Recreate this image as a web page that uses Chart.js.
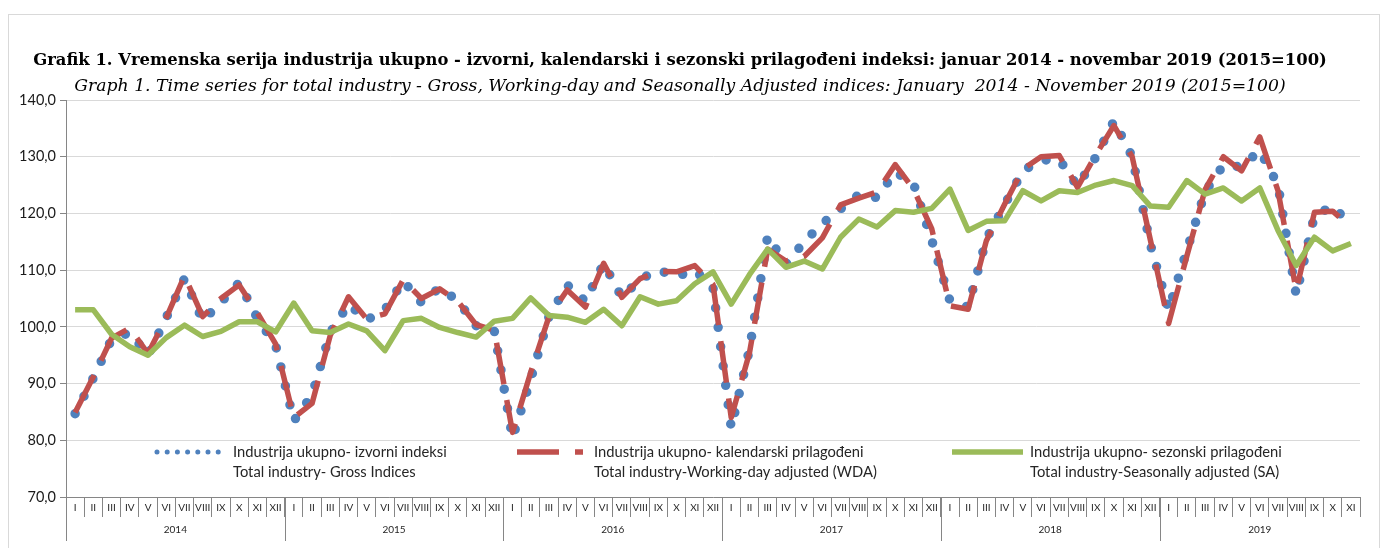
<!DOCTYPE html>
<html><head><meta charset="utf-8">
<script src="https://cdn.jsdelivr.net/npm/chart.js@4.4.1/dist/chart.umd.min.js"></script>
<style>html,body{margin:0;padding:0;background:#fff}canvas{display:block}</style>
</head><body>
<canvas id="c" width="1387" height="548" style="width:1387px;height:548px"></canvas>
<script>
const years = ['2014','2015','2016','2017','2018','2019'];
const months = ['I','II','III','IV','V','VI','VII','VIII','IX','X','XI','XII'];

const gross = [
  84.7, 91.0, 97.8, 99.0, 95.0, 101.6, 108.5, 101.1, 104.3, 107.8, 101.5, 96.8,
  83.4, 88.0, 99.0, 104.0, 101.2, 103.0, 108.1, 104.3, 106.9, 104.6, 100.2, 99.3,
  80.4, 90.8, 101.8, 107.4, 104.5, 111.2, 105.2, 108.4, 110.0, 108.9, 110.0, 106.9,
  82.2, 96.0, 116.0, 111.0, 115.0, 118.2, 120.8, 123.3, 122.8, 127.3, 125.3, 115.3,
  104.6, 103.5, 115.5, 121.5, 127.5, 129.4, 129.5, 124.8, 129.9, 136.3, 130.0, 114.5,
  103.0, 113.5, 123.8, 128.5, 128.2, 131.1, 125.0, 105.6, 119.6, 121.3, 118.0
];
const wda = [
  84.9, 91.2, 98.0, 99.8, 95.3, 101.6, 109.0, 101.8, 105.0, 107.4, 102.5, 97.0,
  84.0, 86.5, 98.5, 105.3, 101.4, 102.3, 108.3, 105.0, 106.7, 104.5, 100.4, 99.4,
  81.4, 92.0, 101.8, 106.5, 103.5, 111.2, 105.2, 108.5, 109.8, 109.7, 110.8, 107.5,
  84.0, 95.4, 113.7, 111.6, 112.4, 115.7, 121.5, 122.7, 123.8, 128.6, 124.3, 117.3,
  103.7, 103.1, 115.2, 121.6, 127.8, 130.0, 130.2, 124.6, 130.3, 135.5, 130.0, 115.3,
  100.6, 112.5, 124.2, 130.0, 127.5, 133.5, 124.0, 106.4, 120.2, 120.4, 117.6
];
const sa = [
  103.0, 103.0, 98.7, 96.5, 95.0, 98.1, 100.3, 98.3, 99.2, 100.9, 100.9, 99.1,
  104.2, 99.3, 99.0, 100.5, 99.3, 95.8, 101.1, 101.5, 99.9, 99.0, 98.2, 101.0,
  101.5, 105.1, 102.0, 101.7, 100.8, 103.1, 100.2, 105.3, 104.0, 104.6, 107.6, 109.7,
  104.0, 109.2, 113.7, 110.5, 111.6, 110.2, 115.8, 119.0, 117.6, 120.5, 120.2, 120.9,
  124.3, 117.0, 118.6, 118.7, 124.0, 122.2, 124.0, 123.7, 125.0, 125.8, 124.9, 121.3,
  121.1, 125.8, 123.4, 124.5, 122.2, 124.5, 117.0, 110.8, 115.8, 113.4, 114.7
];

const seriesNames = [
  ['Industrija ukupno- izvorni indeksi', 'Total industry- Gross Indices'],
  ['Industrija ukupno- kalendarski prilagođeni', 'Total industry-Working-day adjusted (WDA)'],
  ['Industrija ukupno- sezonski prilagođeni', 'Total industry-Seasonally adjusted (SA)']
];
const titleText = 'Grafik 1. Vremenska serija industrija ukupno - izvorni, kalendarski i sezonski prilagođeni indeksi: januar 2014 - novembar 2019 (2015=100)';
const subtitleText = 'Graph 1. Time series for total industry - Gross, Working-day and Seasonally Adjusted indices: January  2014 - November 2019 (2015=100)';

const categories = [];
years.forEach(y => months.forEach(m => { if (categories.length < gross.length) categories.push(m); }));

const COLORS = { gross: '#4F81BD', wda: '#C0504D', sa: '#9BBB59' };
const SANS = 'Lato';
const SERIF = 'DejaVu Serif';

const mctx = document.createElement('canvas').getContext('2d');
function fit(text, style, weight, family, target) {
  mctx.font = `${style} ${weight} 100px ${family}`;
  return 100 * target / mctx.measureText(text).width;
}
const s1 = fit(titleText, 'normal', 'bold', SERIF, 1295);
const s2 = fit(subtitleText, 'italic', 'normal', SERIF, 1212);
const sL = fit(seriesNames[0][0], 'normal', 'normal', SANS, 214);

const T1 = 61 - 0.6 * s1;
const B1 = 26 - 0.6 * (s1 + s2);
const B2 = 13 - 0.6 * s2;

const styles = {
  gross: { color: COLORS.gross, width: 9.5, dash: [0, 19.5], cap: 'round' },
  wda: { color: COLORS.wda, width: 5.5, dash: [42, 16], cap: 'butt' },
  sa: { color: COLORS.sa, width: 5.5, dash: [], cap: 'butt' }
};

const bgPlugin = {
  id: 'bg',
  beforeDraw(chart) {
    const c = chart.ctx;
    c.save();
    c.fillStyle = '#fff';
    c.fillRect(0, 0, chart.width, chart.height);
    c.strokeStyle = '#D9D9D9';
    c.lineWidth = 1;
    c.strokeRect(8.5, 14.5, 1371, 560);
    c.restore();
  }
};

const yearsPlugin = {
  id: 'years',
  afterDraw(chart) {
    const xs = chart.scales.x;
    const c = chart.ctx;
    const half = (xs.getPixelForValue(1) - xs.getPixelForValue(0)) / 2;
    c.save();
    c.strokeStyle = '#868686';
    c.lineWidth = 1;
    c.fillStyle = '#262626';
    c.font = `normal 10px ${SANS}`;
    c.textAlign = 'center';
    c.textBaseline = 'middle';
    years.forEach((y, k) => {
      const start = k * 12;
      if (start >= categories.length) return;
      const end = Math.min(start + 12, categories.length) - 1;
      const left = xs.getPixelForValue(start) - half;
      const right = xs.getPixelForValue(end) + half;
      const lx = Math.round(left) + 0.5;
      c.beginPath();
      c.moveTo(lx, xs.top);
      c.lineTo(lx, xs.top + 44);
      c.stroke();
      c.fillText(y, (left + right) / 2, xs.top + 33);
    });
    c.restore();
  }
};

const legendPlugin = {
  id: 'customLegend',
  afterDraw(chart) {
    const c = chart.ctx;
    const items = [
      { key: 'gross', x0: 157, x1: 224, tx: 233, w: 5, dash: [0, 10.2], cap: 'round' },
      { key: 'wda', x0: 517, x1: 583, tx: 594, w: 5.5, dash: [42, 16], cap: 'butt' },
      { key: 'sa', x0: 952, x1: 1023, tx: 1030, w: 5.5, dash: [], cap: 'butt' }
    ];
    const y1 = 452, y2 = 472;
    c.save();
    items.forEach((it, i) => {
      c.beginPath();
      c.strokeStyle = COLORS[it.key];
      c.lineWidth = it.w;
      c.lineCap = it.cap;
      c.setLineDash(it.dash);
      c.moveTo(it.x0, y1);
      c.lineTo(it.x1, y1);
      c.stroke();
      c.setLineDash([]);
      c.fillStyle = '#262626';
      c.font = `normal ${sL}px ${SANS}`;
      c.textAlign = 'left';
      c.textBaseline = 'middle';
      c.fillText(seriesNames[i][0], it.tx, y1);
      c.fillText(seriesNames[i][1], it.tx, y2);
    });
    c.restore();
  }
};

const mk = (key, data, label, order) => ({
  label, data, order,
  borderColor: styles[key].color,
  backgroundColor: styles[key].color,
  borderWidth: styles[key].width,
  borderDash: styles[key].dash,
  borderCapStyle: styles[key].cap,
  borderJoinStyle: 'round',
  pointRadius: 0,
  pointHoverRadius: 0,
  tension: 0,
  fill: false
});

new Chart(document.getElementById('c'), {
  type: 'line',
  data: {
    labels: categories,
    datasets: [
      mk('gross', gross, seriesNames[0][0], 3),
      mk('wda', wda, seriesNames[1][0], 2),
      mk('sa', sa, seriesNames[2][0], 1)
    ]
  },
  options: {
    responsive: false,
    devicePixelRatio: 1,
    animation: false,
    events: [],
    layout: { padding: { top: 0, left: 0, right: 27, bottom: 0 } },
    plugins: {
      legend: { display: false },
      tooltip: { enabled: false },
      title: {
        display: true, text: titleText, color: '#000',
        font: { family: SERIF, weight: 'bold', size: s1, lineHeight: 1.2 },
        padding: { top: T1, bottom: B1 }
      },
      subtitle: {
        display: true, text: subtitleText, color: '#000',
        font: { family: SERIF, style: 'italic', weight: 'normal', size: s2, lineHeight: 1.2 },
        padding: { top: 0, bottom: B2 }
      }
    },
    scales: {
      x: {
        type: 'category',
        offset: true,
        afterFit(scale) { scale.height = 51; },
        grid: { display: true, drawOnChartArea: false, offset: true, tickLength: 20, color: '#868686', tickColor: '#868686' },
        border: { display: true, color: '#868686', width: 1 },
        ticks: { autoSkip: false, maxRotation: 0, minRotation: 0, padding: -15, color: '#262626', font: { family: SANS, size: 10 } }
      },
      y: {
        min: 70, max: 140,
        afterFit(scale) { scale.width = 66; },
        grid: { color: '#D9D9D9', tickColor: '#868686', tickLength: 6, lineWidth: 1 },
        border: { display: true, color: '#868686', width: 1 },
        ticks: {
          stepSize: 10, padding: 4, color: '#1a1a1a',
          font: { family: SANS, size: 14.5 },
          callback: v => v.toFixed(1).replace('.', ',')
        }
      }
    }
  },
  plugins: [bgPlugin, yearsPlugin, legendPlugin]
});
</script>
</body></html>
